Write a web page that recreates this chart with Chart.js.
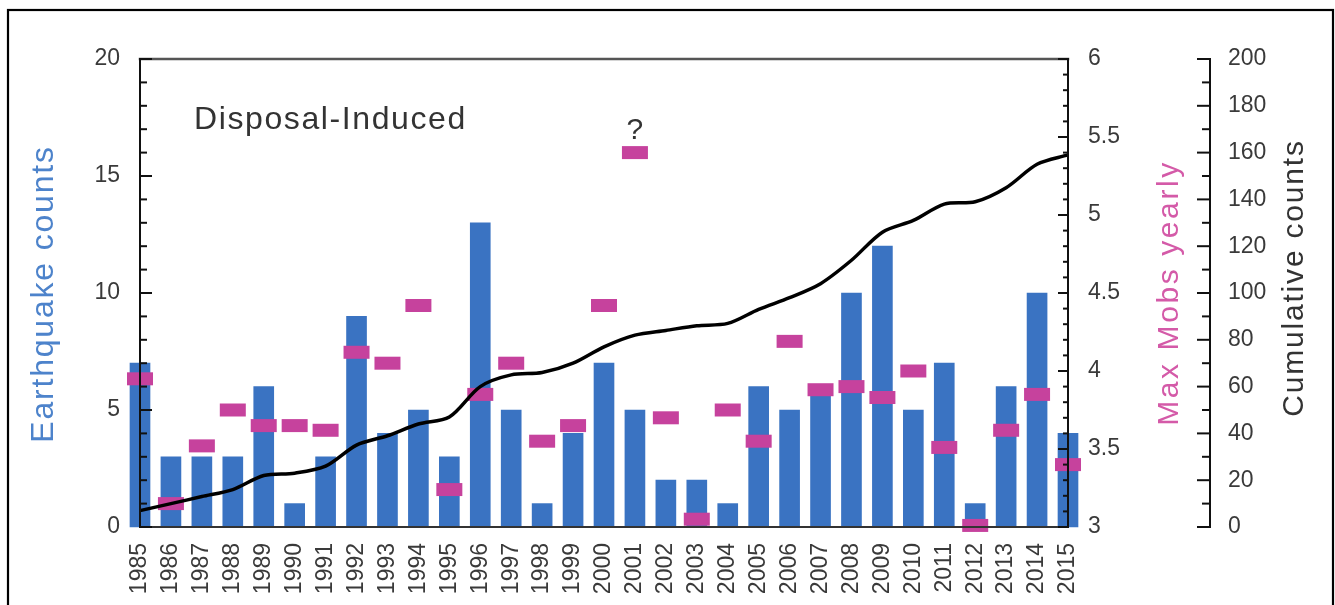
<!DOCTYPE html>
<html><head><meta charset="utf-8">
<script src="https://cdn.jsdelivr.net/npm/chart.js@4"></script>
<style>html,body{margin:0;padding:0;background:#fff}#wrap{width:1335px;height:605px;position:relative}</style>
</head><body><div id="wrap"><canvas id="c"></canvas></div>
<script>
const years = ['1985','1986','1987','1988','1989','1990','1991','1992','1993','1994','1995','1996','1997','1998','1999','2000','2001','2002','2003','2004','2005','2006','2007','2008','2009','2010','2011','2012','2013','2014','2015'];
const quakeCounts = [7,3,3,3,6,1,3,9,4,5,3,13,5,1,4,7,5,2,2,1,6,5,6,10,12,5,7,1,6,10,4];
const maxMobs = [3.95,3.15,3.52,3.75,3.65,3.65,3.62,4.12,4.05,4.42,3.24,3.85,4.05,3.55,3.65,4.42,5.4,3.7,3.05,3.75,3.55,4.19,3.88,3.9,3.83,4.0,3.51,3.01,3.62,3.85,3.4];
const cumulativeCounts = [7,10,13,16,22,23,26,35,39,44,47,60,65,66,70,77,82,84,86,87,93,98,104,114,126,131,138,139,145,155,159];
const countTickValues = [0,5,10,15,20];
const mobsTickValues = [3,3.5,4,4.5,5,5.5,6];
const cumTickValues = [0,20,40,60,80,100,120,140,160,180,200];
const panelLabel = 'Disposal-Induced';
const questionLabel = '?';
const questionYear = '2001';
const titleCounts = 'Earthquake counts';
const titleMobs = 'Max Mobs yearly';
const titleCum = 'Cumulative counts';

const FONT = '"Liberation Sans", Arial, Helvetica, sans-serif';
const TICK_COLOR = '#3a3a3a';

function setTicks(values) {
  return function(scale) { scale.ticks = values.map(v => ({value: v})); };
}

const decor = {
  id: 'decor',
  beforeDraw(chart) {
    const ctx = chart.ctx;
    ctx.save();
    ctx.fillStyle = '#fff';
    ctx.fillRect(0, 0, chart.width, chart.height);
    ctx.strokeStyle = '#000';
    ctx.lineWidth = 2.2;
    ctx.strokeRect(8, 10, 1325, 700);
    ctx.restore();
  },
  afterDatasetsDraw(chart) {
    const {ctx, chartArea: a, scales} = chart;
    const y = scales.y, y2 = scales.y2, y3 = scales.y3;
    const line = (x1, y1, x2, yy2, c, w) => {
      ctx.beginPath(); ctx.strokeStyle = c; ctx.lineWidth = w;
      ctx.moveTo(x1, y1); ctx.lineTo(x2, yy2); ctx.stroke();
    };
    ctx.save();
    ctx.lineCap = 'square';
    line(a.left, a.top, a.right, a.top, '#555', 2.5);
    line(a.left, a.bottom, a.right, a.bottom, '#333', 2);
    line(a.left, a.top, a.left, a.bottom, '#111', 2);
    line(a.right, a.top, a.right, a.bottom, '#111', 2);
    const x3 = y3.left;
    line(x3, y3.top, x3, y3.bottom, '#111', 2);
    ctx.lineCap = 'butt';
    for (let v = y.min; v <= y.max; v++) {
      const p = y.getPixelForValue(v);
      line(a.left, p, a.left + (v % 5 === 0 ? 12 : 7), p, '#111', 2);
    }
    for (let i = 0; i <= 30; i++) {
      const p = y2.getPixelForValue(y2.min + i / 10);
      line(a.right - (i % 5 === 0 ? 10 : 5), p, a.right, p, '#111', 2);
    }
    for (let v = y3.min; v <= y3.max; v += 10) {
      const p = y3.getPixelForValue(v);
      line(x3 - (v % 20 === 0 ? 13 : 8), p, x3, p, '#111', 2);
    }
    ctx.restore();
  },
  afterDraw(chart) {
    const {ctx, chartArea: a, scales} = chart;
    ctx.save();
    ctx.fillStyle = '#333';
    ctx.font = '32px ' + FONT;
    ctx.letterSpacing = '1.6px';
    ctx.textAlign = 'left';
    ctx.textBaseline = 'alphabetic';
    ctx.fillText(panelLabel, a.left + 54, a.top + 70);
    ctx.letterSpacing = '0px';
    ctx.font = '30px ' + FONT;
    ctx.textAlign = 'center';
    const qi = years.indexOf(questionYear);
    ctx.fillText(questionLabel, scales.x.getPixelForValue(qi), scales.y2.getPixelForValue(maxMobs[qi]) - 14);
    const vtitle = (text, bx, cy, color, size, spacing) => {
      ctx.save();
      ctx.translate(bx, cy);
      ctx.rotate(-Math.PI / 2);
      ctx.fillStyle = color;
      ctx.font = size + 'px ' + FONT;
      ctx.letterSpacing = spacing + 'px';
      ctx.textAlign = 'center';
      ctx.textBaseline = 'alphabetic';
      ctx.fillText(text, 0, 0);
      ctx.restore();
    };
    vtitle(titleCounts, 53, 294, '#4d83cb', 32, 1.8);
    vtitle(titleMobs, 1178, 293, '#d45aa8', 30, 2.6);
    vtitle(titleCum, 1303, 278, '#333', 30, 1.8);
    ctx.restore();
  }
};

const tickFont = {family: FONT, size: 23};

new Chart(document.getElementById('c'), {
  data: {
    labels: years,
    datasets: [
      {
        type: 'line', label: 'Cumulative counts', data: cumulativeCounts, yAxisID: 'y3',
        borderColor: '#000', borderWidth: 3.5, pointRadius: 0, tension: 0.3, fill: false,
        order: 0, clip: false
      },
      {
        type: 'line', label: 'Max Mobs yearly', data: maxMobs, yAxisID: 'y2',
        showLine: false, pointStyle: 'line', pointRadius: 13, pointBorderWidth: 13,
        pointBorderColor: '#c6429d', pointBackgroundColor: '#c6429d',
        order: 1, clip: false
      },
      {
        type: 'bar', label: 'Earthquake counts', data: quakeCounts, yAxisID: 'y',
        backgroundColor: '#3a73c2', borderWidth: 0, barThickness: 20,
        order: 2, clip: false
      }
    ]
  },
  options: {
    responsive: true, maintainAspectRatio: false, animation: false, events: [],
    layout: {padding: {left: 0, right: 0, top: 59, bottom: 0}},
    plugins: {legend: {display: false}, tooltip: {enabled: false}},
    scales: {
      x: {
        type: 'category', offset: false,
        grid: {display: false, drawTicks: false}, border: {display: false},
        ticks: {autoSkip: false, minRotation: 90, maxRotation: 90, padding: 16, color: TICK_COLOR, font: tickFont},
        afterFit(s) { s.height = 78; }
      },
      y: {
        position: 'left', min: 0, max: 20, weight: 0,
        grid: {display: false, drawTicks: false}, border: {display: false},
        ticks: {padding: 20, color: TICK_COLOR, font: tickFont, callback: v => String(v)},
        afterBuildTicks: setTicks(countTickValues),
        afterFit(s) { s.width = 140; }
      },
      y2: {
        position: 'right', min: 3, max: 6, weight: 0,
        grid: {display: false, drawTicks: false}, border: {display: false},
        ticks: {padding: 20, color: TICK_COLOR, font: tickFont, callback: v => String(v)},
        afterBuildTicks: setTicks(mobsTickValues),
        afterFit(s) { s.width = 142; }
      },
      y3: {
        position: 'right', min: 0, max: 200, weight: 1,
        grid: {display: false, drawTicks: false}, border: {display: false},
        ticks: {padding: 18, color: TICK_COLOR, font: tickFont, callback: v => String(v)},
        afterBuildTicks: setTicks(cumTickValues),
        afterFit(s) { s.width = 125; }
      }
    }
  },
  plugins: [decor]
});
</script>
</body></html>
